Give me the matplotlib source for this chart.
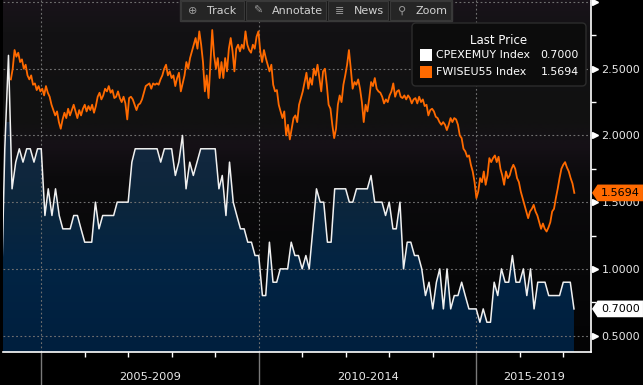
import matplotlib
matplotlib.use("Agg")
import matplotlib.pyplot as plt
import matplotlib.dates as mdates
import matplotlib.transforms as mtransforms
from matplotlib.patches import FancyBboxPatch, Rectangle, Polygon
import numpy as np
import pandas as pd

plt.rcParams['font.family'] = ['DejaVu Sans']

# CPEXEMUY Index (euro area core CPI, % y/y), month ends from Jan 2004
cpi_start = '2004-01-31'
cpi_values = [
    0.8, 1.9, 2.6, 1.6, 1.8, 1.9, 1.8, 1.9, 1.9, 1.8, 1.9, 1.9,   # 2004
    1.4, 1.6, 1.4, 1.6, 1.4, 1.3, 1.3, 1.3, 1.4, 1.4, 1.3, 1.2,   # 2005
    1.2, 1.2, 1.5, 1.3, 1.4, 1.4, 1.4, 1.4, 1.5, 1.5, 1.5, 1.5,   # 2006
    1.8, 1.9, 1.9, 1.9, 1.9, 1.9, 1.9, 1.9, 1.8, 1.9, 1.9, 1.9,   # 2007
    1.7, 1.8, 2.0, 1.6, 1.8, 1.7, 1.8, 1.9, 1.9, 1.9, 1.9, 1.9,   # 2008
    1.6, 1.7, 1.4, 1.8, 1.5, 1.4, 1.3, 1.3, 1.2, 1.2, 1.1, 1.1,   # 2009
    0.8, 0.8, 1.2, 0.9, 0.9, 1.0, 1.0, 1.0, 1.2, 1.1, 1.1, 1.0,   # 2010
    1.1, 1.0, 1.3, 1.6, 1.5, 1.5, 1.2, 1.2, 1.6, 1.6, 1.6, 1.6,   # 2011
    1.5, 1.5, 1.6, 1.6, 1.6, 1.6, 1.7, 1.5, 1.5, 1.5, 1.4, 1.5,   # 2012
    1.3, 1.3, 1.5, 1.0, 1.2, 1.2, 1.1, 1.1, 1.0, 0.8, 0.9, 0.7,   # 2013
    0.9, 1.0, 0.7, 1.0, 0.7, 0.8, 0.8, 0.9, 0.8, 0.7, 0.7, 0.7,   # 2014
    0.6, 0.7, 0.6, 0.6, 0.9, 0.8, 1.0, 0.9, 0.9, 1.1, 0.9, 0.9,   # 2015
    1.0, 0.8, 1.0, 0.7, 0.9, 0.9, 0.9, 0.8, 0.8, 0.8, 0.8, 0.9,   # 2016
    0.9, 0.9, 0.7,                                                # 2017
]

swap_start = '2004-04-20'
swap_end = '2017-04-03'
swap_values = [
    2.42, 2.50, 2.64, 2.59, 2.62, 2.55, 2.57, 2.50, 2.53, 2.45,
    2.42, 2.45, 2.38, 2.39, 2.34, 2.37, 2.33, 2.35, 2.30, 2.37,
    2.32, 2.29, 2.23, 2.19, 2.15, 2.18, 2.10, 2.05, 2.12, 2.17,
    2.13, 2.20, 2.15, 2.19, 2.23, 2.18, 2.13, 2.19, 2.15, 2.20,
    2.23, 2.18, 2.22, 2.19, 2.23, 2.17, 2.22, 2.29, 2.32, 2.27,
    2.30, 2.35, 2.33, 2.37, 2.32, 2.34, 2.28, 2.29, 2.33, 2.28,
    2.25, 2.29, 2.24, 2.12, 2.28, 2.29, 2.27, 2.23, 2.19, 2.23,
    2.24, 2.27, 2.32, 2.37, 2.38, 2.39, 2.35, 2.39, 2.38, 2.39,
    2.38, 2.42, 2.45, 2.50, 2.53, 2.45, 2.48, 2.43, 2.45, 2.37,
    2.43, 2.47, 2.33, 2.39, 2.45, 2.55, 2.50, 2.58, 2.63, 2.68,
    2.73, 2.65, 2.78, 2.68, 2.55, 2.33, 2.45, 2.28, 2.53, 2.79,
    2.60, 2.50, 2.58, 2.43, 2.55, 2.43, 2.58, 2.48, 2.65, 2.73,
    2.63, 2.48, 2.65, 2.68, 2.63, 2.68, 2.65, 2.78, 2.68, 2.64,
    2.62, 2.68, 2.65, 2.74, 2.78, 2.63, 2.55, 2.64, 2.58, 2.53,
    2.48, 2.53, 2.38, 2.33, 2.34, 2.23, 2.18, 2.13, 2.18, 2.00,
    2.08, 1.97, 2.05, 2.13, 2.15, 2.10, 2.23, 2.28, 2.33, 2.40,
    2.47, 2.35, 2.43, 2.38, 2.50, 2.45, 2.53, 2.43, 2.33, 2.48,
    2.50, 2.38, 2.23, 2.20, 2.08, 1.98, 2.05, 2.23, 2.30, 2.25,
    2.38, 2.45, 2.53, 2.64, 2.50, 2.35, 2.40, 2.38, 2.42, 2.35,
    2.25, 2.10, 2.23, 2.18, 2.28, 2.40, 2.37, 2.43, 2.35, 2.33,
    2.32, 2.29, 2.24, 2.27, 2.25, 2.30, 2.33, 2.39, 2.29, 2.33,
    2.34, 2.29, 2.28, 2.30, 2.27, 2.30, 2.28, 2.24, 2.27, 2.28,
    2.24, 2.29, 2.25, 2.27, 2.22, 2.23, 2.15, 2.19, 2.20, 2.18,
    2.14, 2.13, 2.10, 2.08, 2.10, 2.08, 2.04, 2.08, 2.13, 2.10,
    2.13, 2.12, 2.08, 2.00, 1.98, 1.90, 1.88, 1.84, 1.85, 1.78,
    1.73, 1.65, 1.53, 1.58, 1.68, 1.65, 1.73, 1.63, 1.70, 1.83,
    1.80, 1.83, 1.85, 1.80, 1.84, 1.75, 1.70, 1.63, 1.73, 1.68,
    1.70, 1.75, 1.78, 1.75, 1.68, 1.65, 1.58, 1.53, 1.48, 1.43,
    1.38, 1.43, 1.45, 1.48, 1.43, 1.40, 1.35, 1.30, 1.34, 1.30,
    1.28, 1.31, 1.35, 1.43, 1.45, 1.53, 1.60, 1.68, 1.75, 1.78,
    1.80, 1.76, 1.73, 1.68, 1.64, 1.5694,
]

series_names = ['CPEXEMUY Index', 'FWISEU55 Index']
period_labels = ['2005-2009', '2010-2014', '2015-2019']
period_starts = ['2005-01-01', '2010-01-01', '2015-01-01', '2020-01-01']
y_ticks = [0.5, 1.0, 1.5, 2.0, 2.5, 3.0]
toolbar_items = ['Track', 'Annotate', 'News', 'Zoom']
toolbar_icons = ['\u2295', '\u270e', '\u2263', '\u26b2']

ORANGE = '#ff6a00'
W, H = 643, 385

cpi_dates = pd.date_range(cpi_start, periods=len(cpi_values), freq='ME')
swap_dates = pd.date_range(swap_start, swap_end, periods=len(swap_values))

fig = plt.figure(figsize=(W / 100, H / 100), dpi=100)
fig.patch.set_facecolor('black')
ax = fig.add_axes([3 / W, 33 / H, 588 / W, 352 / H])
ax.set_facecolor('black')

x0 = pd.Timestamp('2004-02-14')
x1 = pd.Timestamp('2017-08-21')
y_lo, y_hi = 0.377, 3.015

# background bands (dark, slightly purple towards the top)
stops_frac = [0.0, 0.29, 0.50, 0.59, 0.66, 0.91, 1.0]
stops_rgb = np.array([(4, 4, 5), (8, 8, 9), (12, 11, 13), (22, 17, 23),
                      (17, 17, 17), (19, 18, 20), (25, 19, 26)]) / 255
rows = np.linspace(0, 1, 300)
bg = np.stack([np.interp(rows, stops_frac, stops_rgb[:, c]) for c in range(3)], axis=-1)
ax.imshow(bg[:, None, :], extent=[0, 1, 0, 1], transform=ax.transAxes,
          origin='lower', aspect='auto', zorder=0, interpolation='bilinear')

# navy gradient area under the core CPI line
poly = ax.fill_between(cpi_dates, cpi_values, 0, facecolor='none', edgecolor='none')
fstops = [y_lo, 1.0, 1.5, 2.1]
frgb = np.array([(0, 31, 62), (2, 36, 68), (12, 38, 60), (22, 40, 64)]) / 255
frows = np.linspace(y_lo, 2.1, 200)
fgrad = np.stack([np.interp(frows, fstops, frgb[:, c]) for c in range(3)], axis=-1)
im = ax.imshow(fgrad[:, None, :],
               extent=[mdates.date2num(x0), mdates.date2num(x1), y_lo, 2.1],
               origin='lower', aspect='auto', zorder=1, interpolation='bilinear')
im.set_clip_path(poly.get_paths()[0], transform=ax.transData)

ax.plot(swap_dates, swap_values, color=ORANGE, lw=1.3, zorder=3)
ax.plot(cpi_dates, cpi_values, color='#f0f0f0', lw=1.1, zorder=3)

ax.set_xlim(x0, x1)
ax.set_ylim(y_lo, y_hi)
ax.set_autoscale_on(False)

# axes styling
for side in ['left', 'top']:
    ax.spines[side].set_visible(False)
for side in ['right', 'bottom']:
    ax.spines[side].set_color('white')
    ax.spines[side].set_linewidth(1.2)

ax.yaxis.tick_right()
ax.set_yticks(y_ticks)
ax.set_yticklabels([f'{v:.4f}' if v < 3 else '' for v in y_ticks])
ax.set_yticks(np.arange(0.75, 3.0, 0.5), minor=True)
ax.tick_params(axis='y', which='major', length=0, pad=7.5, labelcolor='#e8e8e8', labelsize=8)
ax.tick_params(axis='y', which='minor', length=3.5, width=1, color='white', direction='out')

ax.xaxis.set_major_locator(mdates.YearLocator(5))
ax.xaxis.set_minor_locator(mdates.YearLocator(1))
ax.tick_params(axis='x', which='major', length=24, width=1, color='#7a7a7a', labelbottom=False)
ax.tick_params(axis='x', which='minor', length=3.5, width=1, color='white')

ax.grid(True, which='major', color='#707070', lw=0.8, ls=(0, (1.6, 2.2)))

ymark = mtransforms.blended_transform_factory(ax.transAxes, ax.transData)
ax.plot([1.006] * len(y_ticks), y_ticks, ls='none', marker='>', ms=4.5,
        color='white', transform=ymark, clip_on=False, zorder=4)

# period labels under the axis
xlab = mtransforms.blended_transform_factory(ax.transData, ax.transAxes)
for i, lab in enumerate(period_labels):
    a = max(pd.Timestamp(period_starts[i]), x0)
    b = min(pd.Timestamp(period_starts[i + 1]), x1)
    mid = a + (b - a) / 2
    ax.text(mid, -0.071, lab, transform=xlab, ha='center', va='center',
            color='#e8e8e8', fontsize=8.2, clip_on=False)

# last value tags on the right axis
def value_tag(val, face, text):
    h = 0.0625
    pts = [(1.0017, val), (1.0111, val + h), (1.0884, val + h),
           (1.0884, val - h), (1.0111, val - h)]
    ax.add_patch(Polygon(pts, closed=True, transform=ymark, facecolor=face,
                         edgecolor='none', clip_on=False, zorder=6))
    ax.text(1.050, val, text, transform=ymark, ha='center', va='center',
            color='black', fontsize=8, clip_on=False, zorder=7)

value_tag(swap_values[-1], ORANGE, f'{swap_values[-1]:.4f}')
value_tag(cpi_values[-1], 'white', f'{cpi_values[-1]:.4f}')

# pixel coordinates (y down) for the overlay widgets
px = mtransforms.Affine2D().scale(1 / W, -1 / H).translate(0, 1) + fig.transFigure

# legend box
fig.add_artist(FancyBboxPatch((412, 23), 174, 63, boxstyle='round,pad=0,rounding_size=4',
                              transform=px, facecolor='#0c0c0c', edgecolor='#2c2c2c', lw=1))
fig.text(499, 40, 'Last Price', transform=px, ha='center', va='center',
         color='white', fontsize=8.5)
last_vals = [cpi_values[-1], swap_values[-1]]
for i, (name, col) in enumerate(zip(series_names, ['white', ORANGE])):
    y = 55 + 17 * i
    fig.add_artist(Rectangle((420, y - 6), 12, 12, transform=px, facecolor=col, edgecolor='none'))
    fig.text(436, y, name, transform=px, ha='left', va='center', color='white', fontsize=7.9)
    fig.text(579, y, f'{last_vals[i]:.4f}', transform=px, ha='right', va='center',
             color='white', fontsize=7.9)

# toolbar at the top
edges = [180, 245, 327, 389, 452]
fig.add_artist(Rectangle((180, 0), 272, 21, transform=px, facecolor='#151515',
                         edgecolor='#3a3a3a', lw=1))
for i, (lab, icon) in enumerate(zip(toolbar_items, toolbar_icons)):
    left, right = edges[i], edges[i + 1]
    fig.add_artist(Rectangle((left + 1, 1), right - left - 2, 19, transform=px,
                             facecolor='#252525', edgecolor='#383838', lw=0.8))
    fig.text(left + 13, 10.5, icon, transform=px, ha='center', va='center',
             color='#9a9a9a', fontsize=8)
    fig.text(left + 27, 10.5, lab, transform=px, ha='left', va='center',
             color='#d0d0d0', fontsize=8)

fig.savefig('out.png', dpi=100, facecolor='black')
